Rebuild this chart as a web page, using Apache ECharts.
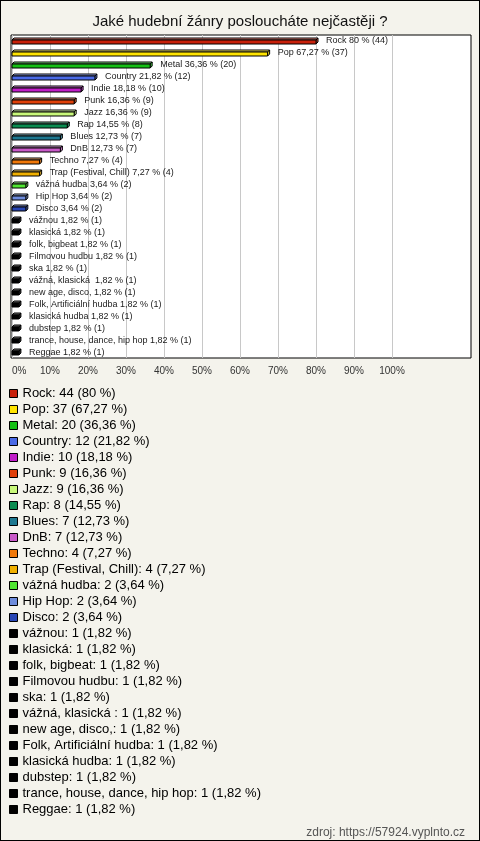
<!DOCTYPE html>
<html>
<head>
<meta charset="utf-8">
<script src="https://cdn.jsdelivr.net/npm/echarts@6/dist/echarts.min.js"></script>
<style>
html,body{margin:0;padding:0;background:#f4f3ec;}
#c{width:480px;height:841px;position:relative;}
#frame{position:absolute;left:0;top:0;width:480px;height:841px;box-sizing:border-box;border:1px solid #000;pointer-events:none;}
</style>
</head>
<body>
<div id="c"></div>
<div id="frame"></div>
<script>
const categories = ['Rock','Pop','Metal','Country','Indie','Punk','Jazz','Rap','Blues','DnB','Techno','Trap (Festival, Chill)','vážná hudba','Hip Hop','Disco','vážnou','klasická','folk, bigbeat','Filmovou hudbu','ska','vážná, klasická ','new age, disco,','Folk, Artificiální hudba','klasická hudba','dubstep','trance, house, dance, hip hop','Reggae'];
const counts = [44,37,20,12,10,9,9,8,7,7,4,4,2,2,2,1,1,1,1,1,1,1,1,1,1,1,1];
const percents = [80,67.27,36.36,21.82,18.18,16.36,16.36,14.55,12.73,12.73,7.27,7.27,3.64,3.64,3.64,1.82,1.82,1.82,1.82,1.82,1.82,1.82,1.82,1.82,1.82,1.82,1.82];
const colors = ['#c8200a','#ffe400','#14c014','#4a6ae6','#c01ec8','#e0400a','#c8f87a','#0a8c50','#1e7890','#c85ac8','#f0780a','#f0b000','#50e632','#6e8cdc','#2846b4','#000','#000','#000','#000','#000','#000','#000','#000','#000','#000','#000','#000'];
const xTicks = [0,10,20,30,40,50,60,70,80,90,100];

const fmt = v => String(v).replace('.', ',');
function mix(hex, t) {
  const h = hex.length === 4 ? hex.replace(/#(.)(.)(.)/, '#$1$1$2$2$3$3') : hex;
  const r = parseInt(h.substr(1,2),16), g = parseInt(h.substr(3,2),16), b = parseInt(h.substr(5,2),16);
  const m = c => Math.round(c + (255 - c) * t);
  return 'rgb(' + m(r) + ',' + m(g) + ',' + m(b) + ')';
}

function renderItem(params, api) {
  const i = api.value(1);
  const start = api.coord([0, i]);
  const end = api.coord([api.value(0), i]);
  const yc = start[1];
  const d = 2;
  const yT = Math.round(yc) - 1;
  const yB = Math.round(yc) + 3;
  const x0 = Math.round(start[0]);
  const x1 = end[0];
  const col = colors[i];
  return {
    type: 'group',
    children: [
      { type: 'polygon', shape: { points: [[x0, yT], [x0 + d, yT - d], [x1 + d, yT - d], [x1, yT]] },
        style: { fill: mix(col, 0.45), stroke: '#000', lineWidth: 1 } },
      { type: 'polygon', shape: { points: [[x1, yT], [x1 + d, yT - d], [x1 + d, yB - d], [x1, yB]] },
        style: { fill: mix(col, 0.2), stroke: '#000', lineWidth: 1 } },
      { type: 'rect', shape: { x: x0, y: yT, width: x1 - x0, height: yB - yT },
        style: { fill: col, stroke: '#000', lineWidth: 1 } },
      { type: 'text', x: x1 + d + 8, y: yc,
        style: { text: categories[i] + ' ' + fmt(percents[i]) + ' % (' + counts[i] + ')',
          fill: '#1a1a1a', font: '9px Arial, "Liberation Sans", sans-serif', verticalAlign: 'middle', align: 'left' } }
    ]
  };
}

const series = categories.map((name, i) => ({
  type: 'custom',
  name: name,
  xAxisIndex: 1,
  yAxisIndex: 1,
  renderItem: renderItem,
  itemStyle: { color: colors[i] },
  data: [[percents[i], i]],
  animation: false,
  silent: true
}));

const chart = echarts.init(document.getElementById('c'), null, { renderer: 'canvas' });
chart.setOption({
  backgroundColor: '#f4f3ec',
  animation: false,
  title: [
    { text: 'Jaké hudební žánry posloucháte nejčastěji ?', left: 'center', top: 9,
      textStyle: { fontSize: 15, fontWeight: 'normal', color: '#111', fontFamily: 'Arial, "Liberation Sans", sans-serif' } },
    { text: 'zdroj: https://57924.vyplnto.cz', right: 10, top: 822,
      textStyle: { fontSize: 12, fontWeight: 'normal', color: '#555', fontFamily: 'Arial, "Liberation Sans", sans-serif' } }
  ],
  grid: [
    { left: 11, right: 9, top: 35, bottom: 483, show: true, backgroundColor: '#fff', borderColor: '#000', borderWidth: 1 },
    { left: 12, width: 380, top: 35, bottom: 483 }
  ],
  xAxis: [
    { gridIndex: 0, type: 'value', show: false },
    { gridIndex: 1, type: 'value', min: xTicks[0], max: xTicks[xTicks.length - 1], interval: 10,
      axisLine: { show: false }, axisTick: { show: false },
      splitLine: { show: true, lineStyle: { color: '#c8c8c8', width: 1 } },
      axisLabel: { formatter: '{value}%', fontSize: 10, color: '#333', margin: 8, alignMinLabel: 'left',
        fontFamily: 'Arial, "Liberation Sans", sans-serif' } }
  ],
  yAxis: [
    { gridIndex: 0, type: 'value', show: false },
    { gridIndex: 1, type: 'category', data: categories, inverse: true, show: false }
  ],
  legend: {
    orient: 'vertical', left: 9, top: 387, padding: 0, itemWidth: 8, itemHeight: 8, itemGap: 3,
    icon: 'rect', selectedMode: false,
    itemStyle: { borderColor: '#000', borderWidth: 1 },
    textStyle: { fontSize: 13, color: '#000', fontFamily: 'Arial, "Liberation Sans", sans-serif' },
    formatter: name => {
      const i = categories.indexOf(name);
      return name + ': ' + counts[i] + ' (' + fmt(percents[i]) + ' %)';
    },
    data: categories
  },
  series: series
});
</script>
</body>
</html>
